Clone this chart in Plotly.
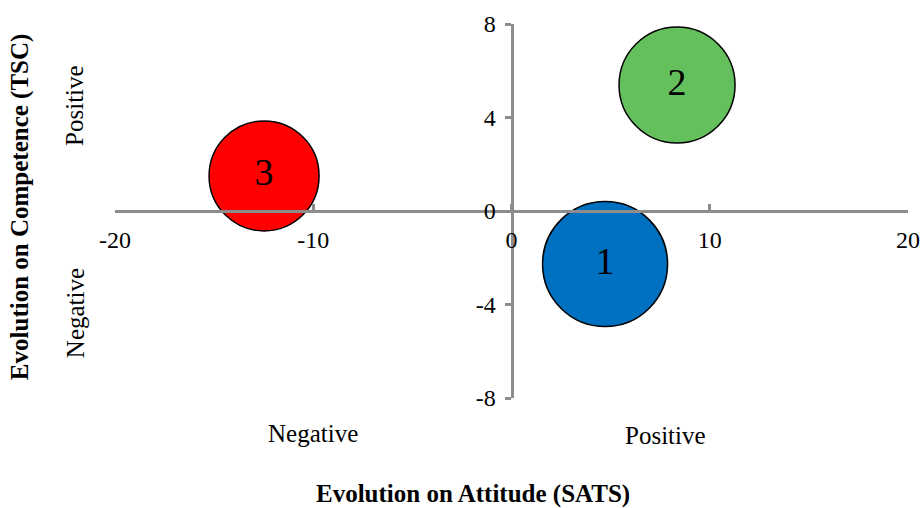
import plotly.graph_objects as go

# bubble data
labels = ["1", "2", "3"]
attitude = [4.72, 8.35, -12.48]      # x: evolution on SATS
competence = [-2.27, 5.39, 1.5]      # y: evolution on TSC
bubble_size = [12.5, 11.6, 11.0]
colors = ["#0070C0", "#64BF5D", "#FF0000"]

x_ticks = [-20, -10, 0, 10, 20]
x_tick_text = ["-20", "-10", "0", "10", "20"]
y_ticks = [-8, -4, 0, 4, 8]
y_tick_text = ["-8", "-4", "0", "4", "8"]

FONT = "Liberation Serif"
AXIS_GREY = "#8C8C8C"

fig = go.Figure()
fig.add_trace(go.Scatter(
    x=attitude,
    y=competence,
    mode="markers+text",
    text=labels,
    textposition="middle center",
    textfont=dict(family=FONT, size=38, color="black"),
    marker=dict(
        size=bubble_size,
        sizemode="diameter",
        sizeref=0.1,
        color=colors,
        opacity=1,
        line=dict(color="black", width=1.5),
    ),
    showlegend=False,
    hoverinfo="skip",
))

axis_common = dict(
    showgrid=False,
    zeroline=False,
    showline=True,
    linecolor=AXIS_GREY,
    linewidth=3,
    tickcolor=AXIS_GREY,
    tickwidth=3,
    ticklen=6,
    tickfont=dict(family=FONT, size=24, color="black"),
    anchor="free",
    position=0.5,
    automargin=False,
)

fig.update_xaxes(
    range=[-20, 20],
    tickvals=x_ticks,
    ticktext=x_tick_text,
    ticks="inside",
    side="bottom",
    ticklabelstandoff=6,
    **axis_common,
)
fig.update_yaxes(
    range=[-8, 8],
    tickvals=y_ticks,
    ticktext=y_tick_text,
    ticks="outside",
    side="left",
    ticklabelstandoff=4,
    **axis_common,
)

side_labels = [
    # (text, x paper, y paper, angle, bold)
    ("Evolution on Competence (TSC)", -0.1198, 0.513, -90, True),
    ("Positive", -0.0504, 0.781, -90, False),
    ("Negative", -0.0504, 0.227, -90, False),
    ("Negative", 0.2497, -0.0936, 0, False),
    ("Positive", 0.6948, -0.1016, 0, False),
    ("Evolution on Attitude (SATS)", 0.4515, -0.257, 0, True),
]
for text, px_, py_, angle, bold in side_labels:
    fig.add_annotation(
        text=f"<b>{text}</b>" if bold else text,
        xref="paper", yref="paper",
        x=px_, y=py_,
        xanchor="center", yanchor="middle",
        textangle=angle,
        showarrow=False,
        font=dict(family=FONT, size=25, color="black"),
    )

fig.update_layout(
    width=922,
    height=508,
    margin=dict(l=115, r=14, t=24, b=110),
    paper_bgcolor="white",
    plot_bgcolor="white",
)

fig.write_html(
    "out.html",
    config={"displayModeBar": False},
    post_script="document.body.style.margin='0';",
)
